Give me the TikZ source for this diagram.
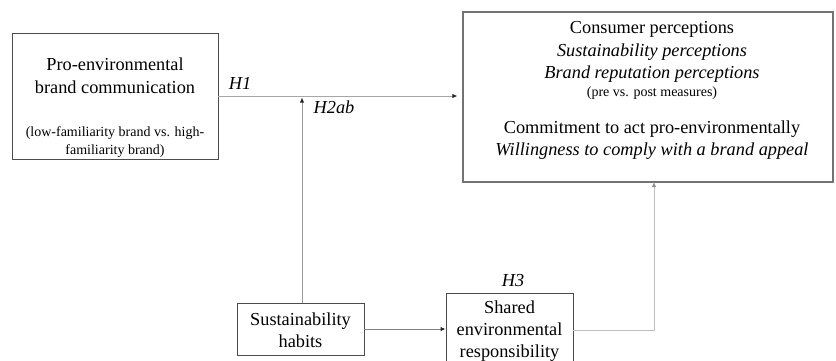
\documentclass[tikz,border=0pt]{standalone}
\usepackage{fontspec}
\setmainfont{Liberation Serif}
\usetikzlibrary{arrows.meta}
\begin{document}
\begin{tikzpicture}[x=1pt,y=-1pt,
  box/.style={draw=black!70,line width=0.9pt,rectangle,inner sep=0pt},
  big/.style={font=\fontsize{18.3}{22}\selectfont,anchor=base,inner sep=0pt},
  small/.style={font=\fontsize{14}{16}\selectfont,anchor=base,inner sep=0pt},
  lab/.style={font=\fontsize{18.3}{22}\selectfont\itshape,anchor=base,inner sep=0pt},
  arr/.style={line width=0.9pt}
]
\useasboundingbox (0,0) rectangle (836,360);
\clip (0,0) rectangle (836,360);
% boxes
\node[box,minimum width=206pt,minimum height=126pt] (comm) at (115,96) {};
\node[box,draw=black!55,line width=1.3pt,minimum width=370pt,minimum height=170pt] (cons) at (648,97) {};
\node[box,minimum width=127pt,minimum height=52pt] (habits) at (300.5,329) {};
\node[box,minimum width=127pt,minimum height=74pt] (shared) at (509.5,330) {};
% texts
\node[big] (t1) at (115,70) {Pro-environmental};
\node[big] (t2) at (115,93) {brand communication};
\node[small] (t3) at (115,136) {(low-familiarity brand vs. high-};
\node[small] (t4) at (115,154) {familiarity brand)};
\node[big] (c1) at (652,33) {Consumer perceptions};
\node[big,font=\fontsize{18.3}{22}\selectfont\itshape] (c2) at (652,56) {Sustainability perceptions};
\node[big,font=\fontsize{18.3}{22}\selectfont\itshape] (c3) at (652,78) {Brand reputation perceptions};
\node[small] (c4) at (652,96) {(pre vs. post measures)};
\node[big] (c5) at (652,133) {Commitment to act pro-environmentally};
\node[big,font=\fontsize{18.3}{22}\selectfont\itshape] (c6) at (652,155) {Willingness to comply with a brand appeal};
\node[big] (h1t) at (300.5,325) {Sustainability};
\node[big] (h2t) at (300.5,347) {habits};
\node[big] (s1) at (509.5,313) {Shared};
\node[big] (s2) at (509.5,335) {environmental};
\node[big] (s3) at (509.5,357) {responsibility};
% labels
\node[lab] (H1) at (240,89) {H1};
\node[lab] (H2) at (334,113) {H2ab};
\node[lab] (H3) at (513,286) {H3};
% connectors
\coordinate (h2end) at (302,97.5);
\coordinate (h3end) at (654,182);
\draw[arr,draw=black!35,shorten >=5pt,-{Latex[length=5pt,width=4.5pt,fill=black!85,color=black!85]}] (comm.east) -- (comm.east -| cons.west);
\draw[arr,draw=black!40,-{Latex[length=5pt,width=4.5pt,fill=black!85,color=black!85]}] (habits.north -| h2end) -- (h2end);
\draw[arr,draw=black!50,-{Latex[length=5pt,width=4.5pt,fill=black!85,color=black!85]}] (habits.east) -- (habits.east -| shared.west);
\draw[arr,draw=black!25,-{Latex[length=5pt,width=4.5pt,fill=black!45,color=black!45]}] (shared.east) -| (h3end);
\end{tikzpicture}
\end{document}
